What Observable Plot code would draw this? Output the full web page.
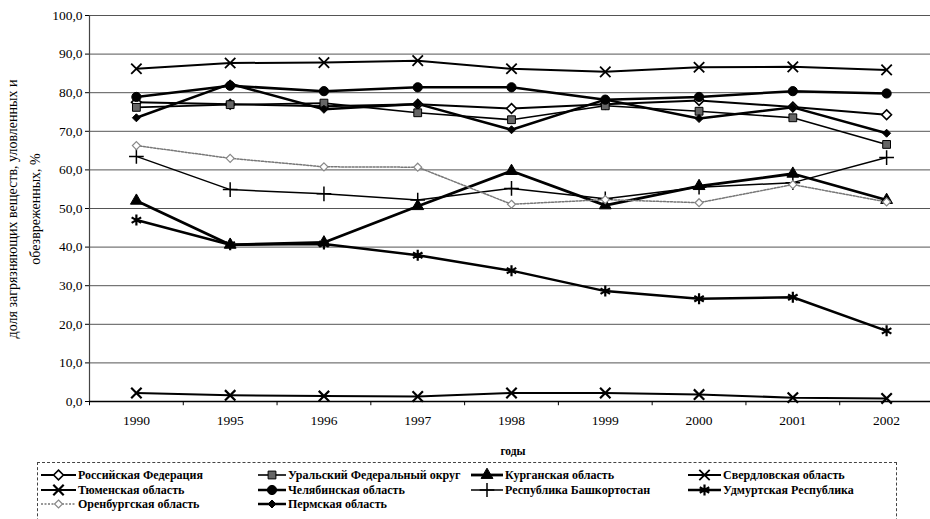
<!DOCTYPE html>
<html><head><meta charset="utf-8">
<script src="https://cdn.jsdelivr.net/npm/d3@7"></script>
<script src="https://cdn.jsdelivr.net/npm/@observablehq/plot@0.6"></script>
<style>
body{margin:0;background:#fff;font-family:'Liberation Serif','Times New Roman',serif;}
#wrap{position:relative;width:930px;height:519px;overflow:hidden;}
#chart{position:absolute;left:0;top:0;}
#legend{position:absolute;left:37px;top:462px;width:860px;height:80px;border:1px dashed #444;box-sizing:border-box;}
.item{position:absolute;display:flex;align-items:center;font-size:12px;font-weight:bold;white-space:nowrap;height:14px;}
.item svg{margin-right:2px;}
</style></head><body><div id="wrap"><div id="chart"></div><div id="legend"></div></div>
<script>
const years = ["1990","1995","1996","1997","1998","1999","2000","2001","2002"];
const russia        = [77.5, 77.0, 76.5, 77.0, 75.9, 77.0, 78.0, 76.3, 74.3];
const ural          = [76.2, 76.9, 77.3, 74.8, 73.0, 76.6, 75.2, 73.5, 66.6];
const kurgan        = [52.0, 40.6, 41.2, 50.6, 59.7, 50.8, 55.8, 59.0, 52.2];
const sverdlovsk    = [86.2, 87.7, 87.8, 88.3, 86.2, 85.4, 86.6, 86.7, 85.9];
const tyumen        = [2.2, 1.6, 1.4, 1.3, 2.2, 2.2, 1.8, 1.0, 0.8];
const chelyabinsk   = [78.9, 81.8, 80.4, 81.4, 81.4, 78.2, 78.9, 80.4, 79.8];
const bashkortostan = [63.5, 54.9, 53.8, 52.2, 55.2, 52.5, 55.5, 56.7, 63.2];
const udmurt        = [47.0, 40.6, 40.8, 37.9, 33.9, 28.6, 26.6, 27.0, 18.3];
const orenburg      = [66.3, 63.0, 60.8, 60.7, 51.1, 52.3, 51.5, 56.2, 51.7];
const perm          = [73.5, 82.3, 75.7, 77.1, 70.4, 78.2, 73.3, 76.2, 69.5];
const yTicks = [0, 10, 20, 30, 40, 50, 60, 70, 80, 90, 100];

const seriesNames = ["Российская Федерация","Уральский Федеральный округ","Курганская область","Свердловская область",
  "Тюменская область","Челябинская область","Республика Башкортостан","Удмуртская Республика",
  "Оренбургская область","Пермская область"];
const seriesValues = [russia, ural, kurgan, sverdlovsk, tyumen, chelyabinsk, bashkortostan, udmurt, orenburg, perm];
const styles = [
  {symbol:"diamond2", fill:"#fff", stroke:"#000", sw:2, r:4.4, dsw:1.6},
  {symbol:"square", fill:"#666", stroke:"#000", sw:1.6, r:4.4, dsw:1},
  {symbol:"triangle", fill:"#000", stroke:"#000", sw:2.8, r:4.4, dsw:1},
  {symbol:"times", fill:"none", stroke:"#000", sw:2, r:4.8, dsw:1.8},
  {symbol:"times", fill:"none", stroke:"#000", sw:2, r:4.8, dsw:2.2},
  {symbol:"circle", fill:"#000", stroke:"#000", sw:2.5, r:4.6, dsw:1},
  {symbol:"plus", fill:"none", stroke:"#000", sw:1.5, r:4.8, dsw:1.5},
  {symbol:"asterisk", fill:"none", stroke:"#000", sw:2.5, r:5.2, dsw:2.2},
  {symbol:"diamond2", fill:"#fff", stroke:"#888", sw:1.5, r:3.6, dsw:1.2, dash:"2,1.5", lineStroke:"#777"},
  {symbol:"diamond2", fill:"#000", stroke:"#000", sw:2.5, r:3.6, dsw:1}
];

const series = seriesNames.map((name, k) => ({
  name, style: styles[k],
  rows: seriesValues[k].map((v, i) => ({i, v}))
}));

const marks = [
  Plot.ruleY(yTicks.filter(d => d > 0), {stroke:"#555", strokeWidth:1}),
  Plot.ruleX([-0.5], {y1:0, y2:100, stroke:"#444", strokeWidth:1.2}),
  Plot.ruleX(d3.range(0.5, 8, 1), {y1:0, y2:-1.1, stroke:"#000"}),
  Plot.ruleX([-0.5], {y1:0, y2:-1.1, stroke:"#000"}),
  Plot.ruleY([0], {stroke:"#000", strokeWidth:1.3})
];
for (const s of series) {
  const st = s.style;
  marks.push(Plot.line(s.rows, {x:"i", y:"v", stroke: st.lineStroke || "#000", strokeWidth: st.sw, strokeDasharray: st.dash}));
}
for (const s of series) {
  const st = s.style;
  marks.push(Plot.dot(s.rows, {x:"i", y:"v", symbol: st.symbol, r: st.r, fill: st.fill, stroke: st.stroke, strokeWidth: st.dsw}));
}

const FF = "'Liberation Serif','Times New Roman',serif";
const chart = Plot.plot({
  width: 930, height: 458,
  marginLeft: 89, marginRight: 0, marginTop: 15, marginBottom: 57,
  style: {fontFamily: FF, fontSize: "13.5px", color: "#000", background: "#fff"},
  x: {domain: [-0.5, 8.5], range: [89, 933], ticks: d3.range(9), tickFormat: i => years[i], tickSize: 0, tickPadding: 14, label: null},
  y: {domain: [0, 100], ticks: yTicks, tickFormat: d => d.toFixed(1).replace(".", ","), tickSize: 4, tickPadding: 3, label: null},
  marks
});
document.getElementById("chart").appendChild(chart);

const svg = d3.select(chart);
const yl = svg.append("g").attr("font-family", FF).attr("font-size", 14).attr("text-anchor", "middle");
yl.append("text").attr("transform", "translate(17,209) rotate(-90)").text("доля загрязняющих веществ, уловленных и");
yl.append("text").attr("transform", "translate(40,209) rotate(-90)").text("обезвреженных, %");
svg.append("text").attr("x", 513).attr("y", 455).attr("text-anchor", "middle")
  .attr("font-family", FF).attr("font-size", 11.5).attr("font-weight", "bold").text("годы");

const symMap = {circle:d3.symbolCircle, diamond2:d3.symbolDiamond2, square:d3.symbolSquare, triangle:d3.symbolTriangle,
  times:d3.symbolTimes, asterisk:d3.symbolAsterisk, plus:d3.symbolPlus};
const colLeft = [3, 220, 433, 650];
const colMarkW = [35, 28, 32, 33];
const rowTop = [5, 20, 34];
const legend = d3.select("#legend");
series.forEach((s, k) => {
  const st = s.style;
  const w = colMarkW[k % 4];
  const item = legend.append("div").attr("class", "item")
    .style("left", colLeft[k % 4] + "px").style("top", rowTop[Math.floor(k / 4)] + "px");
  const m = item.append("svg").attr("width", w).attr("height", 14);
  m.append("line").attr("x1", 0).attr("x2", w).attr("y1", 7).attr("y2", 7)
    .attr("stroke", st.lineStroke || "#000").attr("stroke-width", st.sw).attr("stroke-dasharray", st.dash || null);
  m.append("path").attr("transform", `translate(${w / 2},7)`)
    .attr("d", d3.symbol(symMap[st.symbol], Math.PI * st.r * st.r)())
    .attr("fill", st.fill).attr("stroke", st.stroke).attr("stroke-width", st.dsw);
  item.append("span").text(s.name);
});
</script></body></html>
